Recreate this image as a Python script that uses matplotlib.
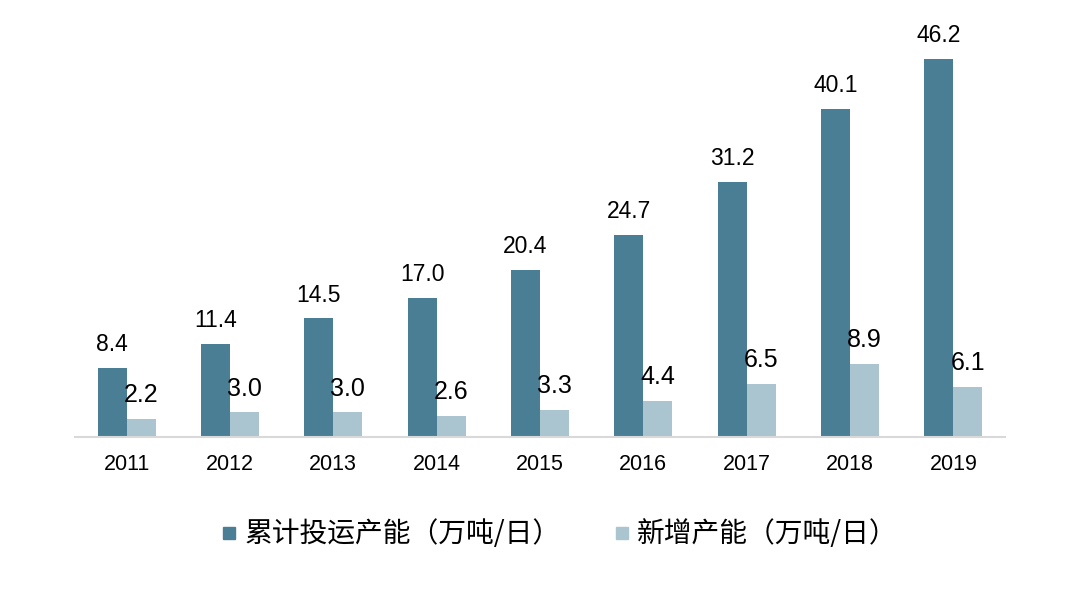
import matplotlib
matplotlib.use("Agg")
import matplotlib.pyplot as plt
from matplotlib.lines import Line2D
import numpy as np

# data
years = ["2011", "2012", "2013", "2014", "2015", "2016", "2017", "2018", "2019"]
cumulative = [8.4, 11.4, 14.5, 17.0, 20.4, 24.7, 31.2, 40.1, 46.2]
added = [2.2, 3.0, 3.0, 2.6, 3.3, 4.4, 6.5, 8.9, 6.1]
series_names = ["累计投运产能（万吨/日）", "新增产能（万吨/日）"]

dark = "#4A7E94"
light = "#AAC4D0"

plt.rcParams["font.family"] = ["Liberation Sans", "Noto Sans CJK SC", "DejaVu Sans"]

fig = plt.figure(figsize=(10.8, 5.99), dpi=100)
ax = fig.add_axes([0.0694, 0.2705, 0.8612, 0.71])

x = np.arange(len(years))
w = 0.28
ax.bar(x - w / 2, cumulative, width=w, color=dark)
ax.bar(x + w / 2, added, width=w, color=light)

for i in range(len(years)):
    ax.annotate(f"{cumulative[i]:.1f}", (x[i] - w / 2, cumulative[i]),
                xytext=(0, 8.5), textcoords="offset points",
                ha="center", va="bottom", fontsize=16.5)
    ax.annotate(f"{added[i]:.1f}", (x[i] + w / 2, added[i]),
                xytext=(0, 8.5), textcoords="offset points",
                ha="center", va="bottom", fontsize=18)

ax.set_xlim(-0.5, len(years) - 0.5)
ax.set_ylim(0, 52)
ax.set_xticks(x)
ax.set_xticklabels(years, fontsize=15.5)
ax.tick_params(axis="x", length=0, pad=12)
ax.set_yticks([])
for side in ["top", "right", "left"]:
    ax.spines[side].set_visible(False)
ax.spines["bottom"].set_color("#D9D9D9")
ax.spines["bottom"].set_linewidth(1.5)

handles = [
    Line2D([], [], marker="s", linestyle="none", markersize=9, color=dark),
    Line2D([], [], marker="s", linestyle="none", markersize=9, color=light),
]
fig.legend(handles, series_names, loc="center", bbox_to_anchor=(0.5165, 0.108),
           ncol=2, frameon=False, handlelength=0.8, handletextpad=0.15,
           columnspacing=1.8,
           prop={"family": ["Noto Sans CJK SC"], "size": 20})

fig.savefig("out.png", dpi=100)
